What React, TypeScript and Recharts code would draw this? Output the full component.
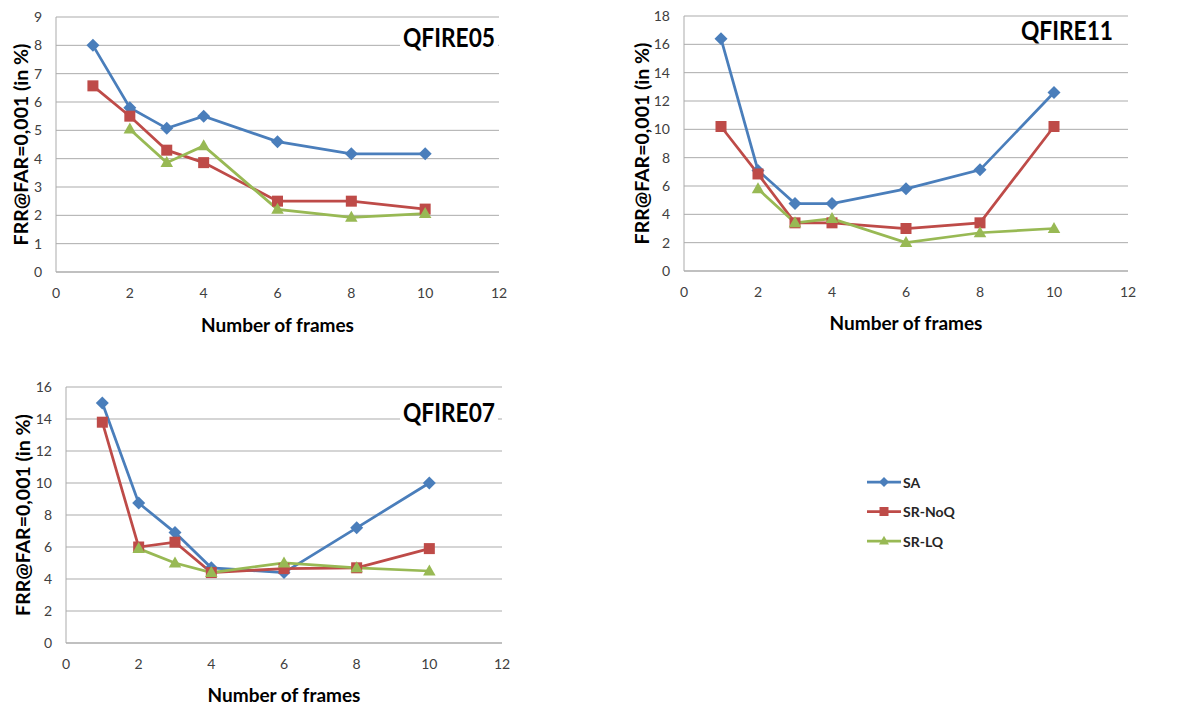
import React from "react";
import { LineChart, Line, XAxis, YAxis, CartesianGrid, Label } from "recharts";

// ---------- data ----------
const frames = [1, 2, 3, 4, 6, 8, 10];
const xTicks = [0, 2, 4, 6, 8, 10, 12];
const seriesNames = ["SA", "SR-NoQ", "SR-LQ"];

const q05SA = [8.0, 5.8, 5.07, 5.5, 4.6, 4.17, 4.17];
const q05NoQ = [6.57, 5.5, 4.3, 3.86, 2.5, 2.5, 2.22];
const q05LQ = [null, 5.04, 3.86, 4.45, 2.21, 1.93, 2.06];
const q05YTicks = [0, 1, 2, 3, 4, 5, 6, 7, 8, 9];

const q11SA = [16.4, 7.1, 4.76, 4.76, 5.8, 7.14, 12.6];
const q11NoQ = [10.2, 6.85, 3.4, 3.4, 3.0, 3.4, 10.2];
const q11LQ = [null, 5.8, 3.4, 3.7, 2.0, 2.7, 3.0];
const q11YTicks = [0, 2, 4, 6, 8, 10, 12, 14, 16, 18];

const q07SA = [15.0, 8.75, 6.9, 4.7, 4.4, 7.2, 10.0];
const q07NoQ = [13.8, 6.0, 6.3, 4.4, 4.65, 4.7, 5.9];
const q07LQ = [null, 5.9, 5.0, 4.4, 5.0, 4.7, 4.5];
const q07YTicks = [0, 2, 4, 6, 8, 10, 12, 14, 16];

// ---------- style ----------
const BLUE = "#4A7EBB";
const RED = "#BE4B48";
const GREEN = "#98B954";
const GRID = "#ababab";
const FONT = "Lato, 'Open Sans', sans-serif";
const colors = [BLUE, RED, GREEN];

const build = (sa: (number | null)[], noq: (number | null)[], lq: (number | null)[]) =>
  frames.map((f, i) => ({ frames: f, SA: sa[i], "SR-NoQ": noq[i], "SR-LQ": lq[i] }));

const diamondPath = (cx: number, cy: number, r: number) =>
  `M${cx},${cy - r}L${cx + r},${cy}L${cx},${cy + r}L${cx - r},${cy}Z`;
const trianglePath = (cx: number, cy: number, s: number) => {
  const h = s * 0.88;
  return `M${cx},${cy - h * 0.6}L${cx + s / 2},${cy + h * 0.4}L${cx - s / 2},${cy + h * 0.4}Z`;
};

const valid = (d: any) =>
  d && d.cx != null && d.cy != null && !Number.isNaN(d.cx) && !Number.isNaN(d.cy) &&
  !(d.payload && d.dataKey && d.payload[d.dataKey] == null);

const renderDiamond = (d: any) =>
  valid(d) ? <path key={d.key ?? `d${d.index}`} d={diamondPath(d.cx, d.cy, 6.5)} fill={BLUE} /> : <g key={d.key ?? `d${d.index}`} />;
const renderSquare = (d: any) =>
  valid(d) ? (
    <rect key={d.key ?? `s${d.index}`} x={d.cx - 5.5} y={d.cy - 5.5} width={11} height={11} fill={RED} />
  ) : (
    <g key={d.key ?? `s${d.index}`} />
  );
const renderTriangle = (d: any) =>
  valid(d) ? <path key={d.key ?? `t${d.index}`} d={trianglePath(d.cx, d.cy, 12.5)} fill={GREEN} /> : <g key={d.key ?? `t${d.index}`} />;

type PanelProps = {
  left: number;
  top: number;
  width: number;
  height: number;
  margin: { top: number; right: number; bottom: number; left: number };
  yAxisWidth: number;
  xAxisHeight: number;
  yTicks: number[];
  data: any[];
  yLabelX: number;
  xLabelDy: number;
  title: string;
  titleX: number;
  titleY: number;
  titleBox: { x: number; y: number; w: number; h: number };
};

const Panel = (p: PanelProps) => (
  <div style={{ position: "absolute", left: p.left, top: p.top, width: p.width, height: p.height }}>
    <LineChart width={p.width} height={p.height} data={p.data} margin={p.margin}>
      <CartesianGrid vertical={false} stroke={GRID} strokeWidth={1} />
      <XAxis
        dataKey="frames"
        type="number"
        domain={[0, 12]}
        ticks={xTicks}
        interval={0}
        height={p.xAxisHeight}
        stroke={GRID}
        tickLine={false}
        tickSize={6}
        tickMargin={10}
        tick={{ fill: "#404040", fontSize: 14, fontFamily: FONT }}
      >
        <Label
          content={(lp: any) => {
            const vb = lp.viewBox;
            return (
              <text
                x={vb.x + vb.width / 2}
                y={vb.y + p.xLabelDy}
                textAnchor="middle"
                dominantBaseline="central"
                fontFamily={FONT}
                fontWeight="bold"
                fontSize={19}
                fill="#000"
              >
                Number of frames
              </text>
            );
          }}
        />
      </XAxis>
      <YAxis
        type="number"
        domain={[p.yTicks[0], p.yTicks[p.yTicks.length - 1]]}
        ticks={p.yTicks}
        interval={0}
        width={p.yAxisWidth}
        stroke={GRID}
        tickLine={false}
        tickSize={6}
        tickMargin={8}
        tick={{ fill: "#404040", fontSize: 14, fontFamily: FONT }}
      >
        <Label
          content={(lp: any) => {
            const vb = lp.viewBox;
            const cx = vb.x + p.yLabelX;
            const cy = vb.y + vb.height / 2;
            return (
              <text
                x={cx}
                y={cy}
                transform={`rotate(-90 ${cx} ${cy})`}
                textAnchor="middle"
                dominantBaseline="central"
                fontFamily={FONT}
                fontWeight="bold"
                fontSize={19.5}
                fill="#000"
              >
                FRR@FAR=0,001 (in %)
              </text>
            );
          }}
        />
      </YAxis>
      <Line
        dataKey="SA"
        stroke={BLUE}
        strokeWidth={2.75}
        dot={renderDiamond}
        activeDot={false}
        isAnimationActive={false}
      />
      <Line
        dataKey="SR-NoQ"
        stroke={RED}
        strokeWidth={2.75}
        dot={renderSquare}
        activeDot={false}
        isAnimationActive={false}
      />
      <Line
        dataKey="SR-LQ"
        stroke={GREEN}
        strokeWidth={2.75}
        dot={renderTriangle}
        activeDot={false}
        isAnimationActive={false}
      />
    </LineChart>
    <svg
      width={p.width}
      height={p.height}
      style={{ position: "absolute", left: 0, top: 0, pointerEvents: "none" }}
    >
      <rect x={p.titleBox.x} y={p.titleBox.y} width={p.titleBox.w} height={p.titleBox.h} fill="#fff" />
      <text
        x={p.titleX}
        y={p.titleY}
        textAnchor="end"
        fontFamily={FONT}
        fontWeight="bold"
        fontSize={26}
        textLength={92}
        lengthAdjust="spacingAndGlyphs"
        fill="#000"
      >
        {p.title}
      </text>
    </svg>
  </div>
);

const LegendBox = () => {
  const ys = [482, 511.5, 541];
  return (
    <svg width={120} height={100} style={{ position: "absolute", left: 860, top: 460 }}>
      {seriesNames.map((name, i) => {
        const y = ys[i] - 460;
        const x1 = 867 - 860;
        const x2 = 901 - 860;
        const cx = (x1 + x2) / 2;
        return (
          <g key={name}>
            <line x1={x1} y1={y} x2={x2} y2={y} stroke={colors[i]} strokeWidth={2.75} />
            {i === 0 && <path d={diamondPath(cx, y, 5)} fill={BLUE} />}
            {i === 1 && <rect x={cx - 4.5} y={y - 4.5} width={9} height={9} fill={RED} />}
            {i === 2 && <path d={trianglePath(cx, y, 10)} fill={GREEN} />}
            <text
              x={x2 + 2}
              y={y}
              dominantBaseline="central"
              fontFamily={FONT}
              fontSize={14}
              fontWeight="bold"
              fill="#262626"
            >
              {name}
            </text>
          </g>
        );
      })}
    </svg>
  );
};

export default function App() {
  return (
    <div style={{ position: "absolute", left: 0, top: 0, width: 1190, height: 706, background: "#fff" }}>
      <Panel
        left={0}
        top={0}
        width={520}
        height={340}
        margin={{ top: 17, right: 21, bottom: 0, left: 0 }}
        yAxisWidth={56}
        xAxisHeight={68}
        yTicks={q05YTicks}
        data={build(q05SA, q05NoQ, q05LQ)}
        yLabelX={20}
        xLabelDy={52}
        title="QFIRE05"
        titleX={495}
        titleY={47}
        titleBox={{ x: 400, y: 24, w: 98, h: 26 }}
      />
      <Panel
        left={630}
        top={0}
        width={520}
        height={340}
        margin={{ top: 16, right: 22, bottom: 0, left: 0 }}
        yAxisWidth={54}
        xAxisHeight={69}
        yTicks={q11YTicks}
        data={build(q11SA, q11NoQ, q11LQ)}
        yLabelX={11}
        xLabelDy={51}
        title="QFIRE11"
        titleX={483}
        titleY={40}
        titleBox={{ x: 388, y: 19, w: 98, h: 24 }}
      />
      <Panel
        left={0}
        top={370}
        width={525}
        height={336}
        margin={{ top: 17, right: 23, bottom: 0, left: 0 }}
        yAxisWidth={66}
        xAxisHeight={63}
        yTicks={q07YTicks}
        data={build(q07SA, q07NoQ, q07LQ)}
        yLabelX={22}
        xLabelDy={51}
        title="QFIRE07"
        titleX={495}
        titleY={52}
        titleBox={{ x: 400, y: 30, w: 98, h: 26 }}
      />
      <LegendBox />
    </div>
  );
}
